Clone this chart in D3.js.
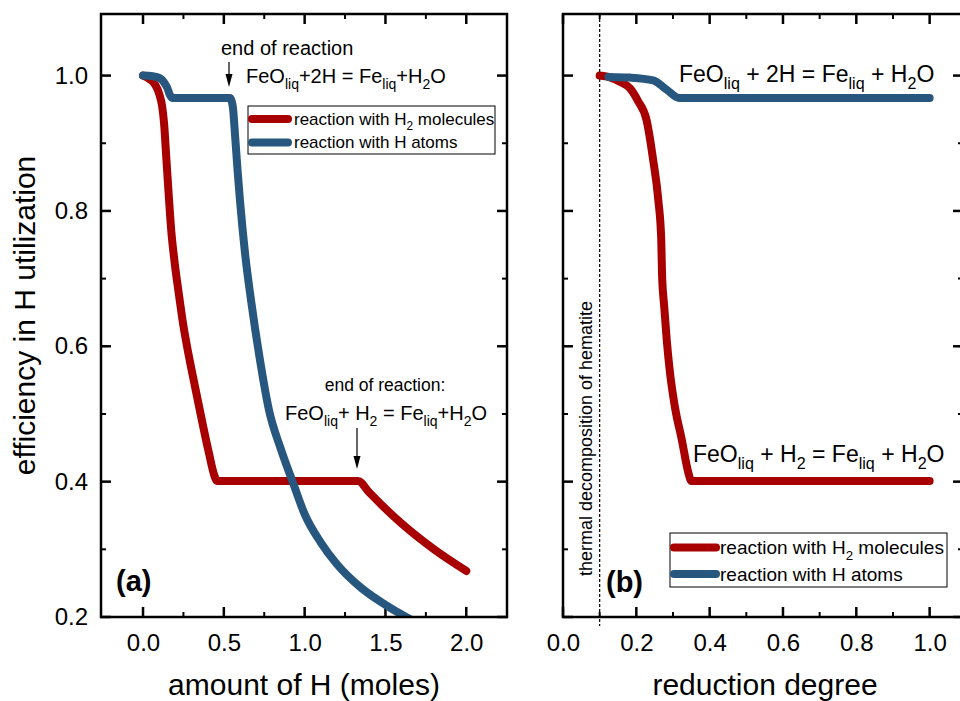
<!DOCTYPE html>
<html><head><meta charset="utf-8">
<script src="https://cdn.jsdelivr.net/npm/d3@7"></script>
<style>body{margin:0;background:#fff}svg{display:block;font-family:"Liberation Sans",Arial,sans-serif}</style>
</head><body><svg id="c" width="960" height="701"></svg>
<script>
// ---- data ----
const aH2x = [0, 0.04, 0.074, 0.1, 0.118, 0.13, 0.145, 0.16, 0.175, 0.195, 0.22, 0.25, 0.28, 0.322, 0.363, 0.408, 0.44, 0.458, 0.9, 1.33, 1.4, 1.487, 1.6, 1.8, 2.0];
const aH2y = [1.0, 0.995, 0.987, 0.973, 0.955, 0.93, 0.875, 0.82, 0.77, 0.725, 0.68, 0.63, 0.59, 0.54, 0.492, 0.442, 0.41, 0.401, 0.401, 0.401, 0.384, 0.363, 0.338, 0.300, 0.268];
const aHx = [0, 0.06, 0.105, 0.13, 0.15, 0.165, 0.18, 0.3, 0.538, 0.555, 0.57, 0.585, 0.6, 0.63, 0.67, 0.72, 0.78, 0.85, 0.93, 1.0, 1.1, 1.2, 1.35, 1.5, 1.62, 1.75];
const aHy = [1.0, 0.999, 0.996, 0.99, 0.982, 0.972, 0.967, 0.967, 0.967, 0.955, 0.91, 0.86, 0.815, 0.74, 0.665, 0.585, 0.505, 0.45, 0.397, 0.352, 0.31, 0.278, 0.243, 0.218, 0.201, 0.185];
const bH2x = [0.1, 0.13, 0.155, 0.183, 0.205, 0.228, 0.246, 0.26, 0.268, 0.270, 0.276, 0.283, 0.292, 0.305, 0.324, 0.342, 0.35, 1.0];
const bH2y = [1.0, 0.997, 0.991, 0.981, 0.962, 0.934, 0.875, 0.816, 0.757, 0.708, 0.659, 0.609, 0.56, 0.511, 0.462, 0.413, 0.401, 0.401];
const bHx = [0.124, 0.183, 0.246, 0.283, 0.317, 1.0];
const bHy = [0.998, 0.997, 0.993, 0.979, 0.967, 0.967];
const yTicks = [0.2, 0.4, 0.6, 0.8, 1.0];
const yMinor = [0.3, 0.5, 0.7, 0.9];
const aTicks = [0.0, 0.5, 1.0, 1.5, 2.0];
const aMinor = [0.25, 0.75, 1.25, 1.75];
const bTicks = [0.0, 0.2, 0.4, 0.6, 0.8, 1.0];
const bMinor = [0.1, 0.3, 0.5, 0.7, 0.9];
const seriesNames = ["reaction with H2 molecules", "reaction with H atoms"];
const RED = "#a80000", BLUE = "#27577e";

const svg = d3.select("#c");
const pTop = 14, pBot = 617;
const y = d3.scaleLinear().domain([0.2, 1.091]).range([pBot, pTop]);
const FONT = '"Liberation Sans",Arial,sans-serif';

function rich(g, x, yb, parts, size, attrs) {
  const t = g.append("text").attr("x", x).attr("y", yb).attr("font-size", size).attr("fill", "#000");
  if (attrs) for (const k in attrs) t.attr(k, attrs[k]);
  let sub = false;
  parts.forEach(p => {
    const isSub = p[1] === "s";
    const ts = t.append("tspan").text(p[0]);
    if (isSub && !sub) ts.attr("dy", 0.3 * size).attr("font-size", 0.7 * size);
    else if (isSub) ts.attr("font-size", 0.7 * size);
    else if (!isSub && sub) ts.attr("dy", -0.3 * size);
    sub = isSub;
  });
  return t;
}

function panel(id, left, right, xDomain, ticks, minor, showYLabels) {
  const x = d3.scaleLinear().domain(xDomain).range([left, right]);
  const g = svg.append("g");
  g.append("clipPath").attr("id", "clip" + id).append("rect")
    .attr("x", left).attr("y", pTop).attr("width", right - left).attr("height", pBot - pTop);
  const xb = g.append("g").attr("transform", `translate(0,${pBot})`)
    .call(d3.axisBottom(x).tickValues(ticks).tickSize(0).tickPadding(17).tickFormat(d3.format(".1f")));
  xb.select(".domain").remove();
  xb.selectAll("text").attr("font-size", 24).attr("font-family", FONT).attr("fill", "#000");
  if (showYLabels) {
    const yl = g.append("g").attr("transform", `translate(${left},0)`)
      .call(d3.axisLeft(y).tickValues(yTicks).tickSize(0).tickPadding(13).tickFormat(d3.format(".1f")));
    yl.select(".domain").remove();
    yl.selectAll("text").attr("font-size", 24).attr("font-family", FONT).attr("fill", "#000");
  }
  const tk = g.append("g").attr("stroke", "#000");
  const major = 10, mn = 5;
  ticks.forEach(v => {
    tk.append("line").attr("x1", x(v)).attr("x2", x(v)).attr("y1", pBot).attr("y2", pBot - major).attr("stroke-width", 2.5);
    tk.append("line").attr("x1", x(v)).attr("x2", x(v)).attr("y1", pTop).attr("y2", pTop + major).attr("stroke-width", 2.5);
  });
  minor.forEach(v => {
    tk.append("line").attr("x1", x(v)).attr("x2", x(v)).attr("y1", pBot).attr("y2", pBot - mn).attr("stroke-width", 2);
    tk.append("line").attr("x1", x(v)).attr("x2", x(v)).attr("y1", pTop).attr("y2", pTop + mn).attr("stroke-width", 2);
  });
  yTicks.forEach(v => {
    tk.append("line").attr("x1", left).attr("x2", left + major).attr("y1", y(v)).attr("y2", y(v)).attr("stroke-width", 2.5);
    tk.append("line").attr("x1", right).attr("x2", right - major).attr("y1", y(v)).attr("y2", y(v)).attr("stroke-width", 2.5);
  });
  yMinor.forEach(v => {
    tk.append("line").attr("x1", left).attr("x2", left + mn).attr("y1", y(v)).attr("y2", y(v)).attr("stroke-width", 2);
    tk.append("line").attr("x1", right).attr("x2", right - mn).attr("y1", y(v)).attr("y2", y(v)).attr("stroke-width", 2);
  });
  return { g, x };
}

function drawLine(p, id, xs, ys, color) {
  const pts = xs.map((v, i) => [v, ys[i]]);
  const line = d3.line().x(d => p.x(d[0])).y(d => y(d[1])).curve(d3.curveMonotoneX);
  p.g.append("path").attr("clip-path", `url(#clip${id})`).attr("d", line(pts))
    .attr("fill", "none").attr("stroke", color).attr("stroke-width", 8)
    .attr("stroke-linecap", "round").attr("stroke-linejoin", "round");
}

function frame(p, left, right) {
  p.g.append("rect").attr("x", left).attr("y", pTop).attr("width", right - left).attr("height", pBot - pTop)
    .attr("fill", "none").attr("stroke", "#000").attr("stroke-width", 2.5);
}

function arrow(g, x, y1, y2) {
  g.append("line").attr("x1", x).attr("x2", x).attr("y1", y1).attr("y2", y2 - 11).attr("stroke", "#000").attr("stroke-width", 1.2);
  g.append("path").attr("d", `M${x - 3.5},${y2 - 13}L${x + 3.5},${y2 - 13}L${x},${y2}Z`).attr("fill", "#000");
}

function legend(g, x0, y0, w, h, size, lineLen, gap) {
  g.append("rect").attr("x", x0).attr("y", y0).attr("width", w).attr("height", h)
    .attr("fill", "#fff").attr("stroke", "#000").attr("stroke-width", 1);
  const rows = [[RED, [["reaction with H", "n"], ["2", "s"], [" molecules", "n"]]], [BLUE, [[seriesNames[1], "n"]]]];
  rows.forEach((r, i) => {
    const cy = y0 + h * (i === 0 ? 0.27 : 0.76);
    g.append("line").attr("x1", x0 + 4).attr("x2", x0 + lineLen - 4).attr("y1", cy).attr("y2", cy)
      .attr("stroke", r[0]).attr("stroke-width", 8).attr("stroke-linecap", "round");
    rich(g, x0 + lineLen + gap, cy + size * 0.35, r[1], size);
  });
}

// ---- panel (a) ----
const aL = 101, aR = 507;
const pa = panel("a", aL, aR, [-0.26, 2.252], aTicks, aMinor, true);
drawLine(pa, "a", aH2x, aH2y, RED);
drawLine(pa, "a", aHx, aHy, BLUE);
frame(pa, aL, aR);
pa.g.append("text").attr("x", 221).attr("y", 55).attr("font-size", 20).text("end of reaction");
arrow(pa.g, 229, 62, 87);
rich(pa.g, 246, 83, [["FeO", "n"], ["liq", "s"], ["+2H = Fe", "n"], ["liq", "s"], ["+H", "n"], ["2", "s"], ["O", "n"]], 20);
legend(pa.g, 248, 106, 247, 48, 17, 44, 2);
pa.g.append("text").attr("x", 385).attr("y", 391).attr("font-size", 17.5).attr("text-anchor", "middle").text("end of reaction:");
rich(pa.g, 285, 420, [["FeO", "n"], ["liq", "s"], ["+ H", "n"], ["2", "s"], [" = Fe", "n"], ["liq", "s"], ["+H", "n"], ["2", "s"], ["O", "n"]], 20);
arrow(pa.g, 357, 428, 469);
pa.g.append("text").attr("x", 116).attr("y", 591).attr("font-size", 29).attr("font-weight", "bold").text("(a)");
svg.append("text").attr("x", (aL + aR) / 2).attr("y", 695).attr("font-size", 30).attr("text-anchor", "middle").text("amount of H (moles)");
svg.append("text").attr("transform", `translate(35,${(pTop + pBot) / 2}) rotate(-90)`).attr("font-size", 30)
  .attr("text-anchor", "middle").text("efficiency in H utilization");

// ---- panel (b) ----
const bL = 563, bR = 963;
const pb = panel("b", bL, bR, [0, 1.091], bTicks, bMinor, false);
pb.g.append("line").attr("x1", pb.x(0.1)).attr("x2", pb.x(0.1)).attr("y1", pTop).attr("y2", 626)
  .attr("stroke", "#000").attr("stroke-width", 1.2).attr("stroke-dasharray", "3,2");
pb.g.append("text").attr("transform", `translate(592,${(292 + 585) / 2}) rotate(-90)`).attr("font-size", 18)
  .attr("text-anchor", "middle").text("thermal decomposition of hematite");
drawLine(pb, "b", bH2x, bH2y, RED);
drawLine(pb, "b", bHx, bHy, BLUE);
frame(pb, bL, bR);
rich(pb.g, 679, 82, [["FeO", "n"], ["liq", "s"], [" + 2H = Fe", "n"], ["liq", "s"], [" + H", "n"], ["2", "s"], ["O", "n"]], 23);
rich(pb.g, 693, 462, [["FeO", "n"], ["liq", "s"], [" + H", "n"], ["2", "s"], [" = Fe", "n"], ["liq", "s"], [" + H", "n"], ["2", "s"], ["O", "n"]], 23);
legend(pb.g, 670, 533, 277, 54, 19, 50, 0);
pb.g.append("text").attr("x", 606).attr("y", 592).attr("font-size", 29).attr("font-weight", "bold").text("(b)");
svg.append("text").attr("x", 765).attr("y", 695).attr("font-size", 30).attr("text-anchor", "middle").text("reduction degree");
</script></body></html>
